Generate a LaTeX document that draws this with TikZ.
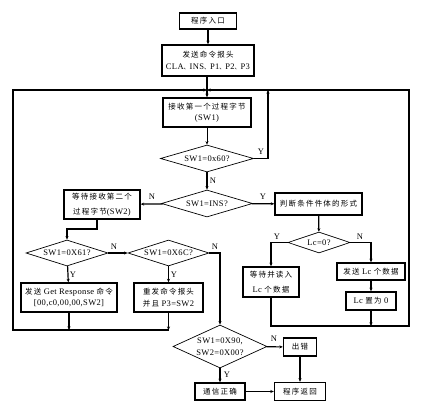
\documentclass[tikz,border=0pt]{standalone}
\usepackage{fontspec}
\setmainfont{Liberation Serif}[LetterSpace=4]
\newfontfamily\zhfont{Noto Sans CJK SC}[LetterSpace=16]
\usetikzlibrary{positioning,arrows.meta,shapes.geometric,calc}
\newcommand\zh[1]{{\zhfont\fontsize{7.5}{11.5}\selectfont #1}}
\tikzset{
  sz/.style 2 args={minimum width=#1pt, minimum height=#2pt},
  blk/.style={draw, line width=1.4pt, inner sep=0pt, align=center,
              font=\fontsize{8.5}{11.5}\selectfont},
  dec/.style={diamond, draw, line width=0.7pt, inner sep=0pt, align=center,
              font=\fontsize{8.5}{11.5}\selectfont},
  flow/.style={-{Stealth[length=3.5pt, width=3pt]}, line width=1.2pt},
  fine/.style={-{Stealth[length=3.5pt, width=3pt]}, line width=0.6pt},
  yn/.style={font=\fontsize{8.5}{10}\selectfont, inner sep=0pt}
}
\begin{document}
\begin{tikzpicture}[x=1pt, y=-1pt]
\useasboundingbox (0,0) rectangle (436,411);
\node[blk, sz={57}{16}] (st) at (208,21) {\zh{程序入口}};
\node[blk, sz={92}{31}] (hd) at (208,60.5) {\zh{发送命令报头}\\CLA{\zhfont\fontsize{6}{11.5}\selectfont 、}INS{\zhfont\fontsize{6}{11.5}\selectfont 、}P1{\zhfont\fontsize{6}{11.5}\selectfont 、}P2{\zhfont\fontsize{6}{11.5}\selectfont 、}P3};
\node[blk, sz={88}{29}] (rc) at (207,112.5) {\zh{接收第一个过程字节}\\(SW1)};
\node[dec, sz={93}{27}, aspect=3.4] (d60) at (207,158.5) {SW1=0x60?};
\node[dec, sz={91}{27}, aspect=3.4] (dins) at (207,203.5) {SW1=INS?};
\node[blk, sz={76}{29}] (w2) at (102,204.5) {\zh{等待接收第二个}\\[4pt]\zh{过程字节}(SW2)};
\node[blk, sz={87}{22}] (jd) at (318.5,204) {\zh{判断条件件体的形式}};
\node[dec, sz={62}{21}, aspect=3] (dlc) at (319,242.5) {Lc=0?};
\node[blk, sz={56}{30}] (rl) at (271,282) {\zh{等待并读入}\\[3pt]Lc \zh{个数据}};
\node[blk, sz={68}{17}] (sl) at (371,271.5) {\zh{发送} Lc \zh{个数据}};
\node[blk, sz={50}{18}] (lz) at (371,301) {Lc \zh{置为} 0};
\node[dec, sz={82}{26}, aspect=3.2] (d61) at (67,253) {SW1=0X61?};
\node[dec, sz={81}{26}, aspect=3.2] (d6c) at (168.5,253) {SW1=0X6C?};
\node[blk, sz={96}{29}] (gr) at (69,297.5) {\zh{发送} Get Response \zh{命令}\\{[}00,c0,00,00,SW2{]}};
\node[blk, sz={69}{29}] (rs) at (168.5,297.5) {\zh{重发命令报头}\\\zh{并且} P3=SW2};
\node[dec, sz={94}{43}, aspect=2.2] (d90) at (220,346.5) {SW1=0X90,\\SW2=0X00?};
\node[blk, sz={33}{18}] (er) at (300,347) {\zh{出错}};
\node[blk, sz={50}{17}] (ok) at (220,391.5) {\zh{通信正确}};
\node[blk, sz={51}{18}] (rt) at (300,391.5) {\zh{程序返回}};
\coordinate (jn) at (207,90);
\coordinate (lt) at (13,90);
\coordinate (lb) at (13,330);
\coordinate (rtop) at (409,90);
\coordinate (rb) at (409,326);
\coordinate (yup) at (268,90);
\coordinate (k1) at (97,229);
\node[yn] (ly1) at (261,152) {Y};
\node[yn] (ln1) at (213,181) {N};
\node[yn] (ln2) at (152,197) {N};
\node[yn] (ly2) at (263,197) {Y};
\node[yn] (ln3) at (114,247) {N};
\node[yn] (ln4) at (215,247) {N};
\node[yn] (ly3) at (73,275) {Y};
\node[yn] (ly4) at (174,275) {Y};
\node[yn] (ly5) at (277,237) {Y};
\node[yn] (ln5) at (360,237) {N};
\node[yn] (ln6) at (274,339) {N};
\node[yn] (ly6) at (227,375) {Y};
\draw[flow] (st) -- (hd);
\draw[flow] (hd.south -| jn) -- (rc.north -| jn);
\draw[fine] (rc) -- (d60);
\draw[flow] (d60.east) -| (yup);
\draw[flow] (d60) -- (dins);
\draw[flow] (dins) -- (w2);
\draw[flow] (dins) -- (jd);
\draw[flow] (w2.south -| k1) -- (k1) -| (d61);
\draw[flow] (d61) -- (d6c);
\draw[flow] (d6c.east) -| (d90);
\draw[flow] (d61) -- (gr);
\draw[flow] (d6c) -- (rs);
\draw[flow] (gr) -- (gr |- lb);
\draw[flow] (rs) -- (rs |- lb);
\draw[flow] (rs |- lb) -- (lb) -- (lt) -- (jn);
\draw[flow] (jd) -- (dlc);
\draw[flow] (dlc.west) -| (rl);
\draw[flow] (dlc.east) -| (sl);
\draw[flow] (sl) -- (lz);
\draw[flow] (lz) -- (lz |- rb);
\draw[flow] (rl.south) |- (rb) -- (rtop) -- (jn);
\draw[flow] (d90) -- (er);
\draw[flow] (d90) -- (ok);
\draw[flow] (er) -- (rt);
\draw[flow] (ok) -- (rt);
\end{tikzpicture}
\end{document}
